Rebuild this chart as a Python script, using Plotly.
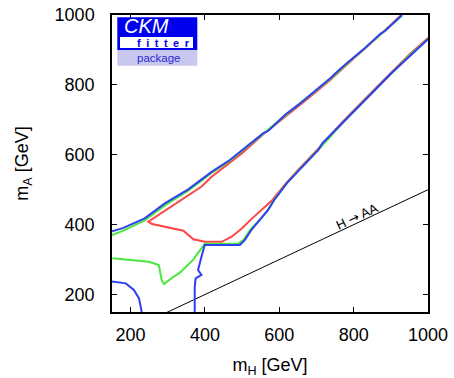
import plotly.graph_objects as go

# ---- data ----
blue_upper_mH = [150, 179, 238, 292, 355, 418, 467, 499, 530, 557, 570, 615, 650, 683, 737, 760, 772, 786, 830, 872, 885, 930]
blue_upper_mA = [381, 390, 418, 461, 501, 551, 585, 612, 638, 662, 668, 714, 742, 771, 819, 842, 852, 866, 905, 946, 955, 1000]

blue_lower_mH = [372, 372.5, 372.5, 375, 390.6, 381.5, 390.6, 399.5, 494, 507, 525, 548, 570, 586, 620, 658, 705, 716, 770, 786, 849, 900, 952, 997, 1005]
blue_lower_mA = [150, 156, 222, 246, 256, 270, 308, 342, 342, 356, 385, 413, 442, 470, 518, 561, 614, 633, 690, 709, 776, 832, 885, 928, 935]

blue_arc_mH = [150, 187, 209, 222.6, 230]
blue_arc_mA = [237, 232, 213, 189, 150]

green_upper_mH = [150, 179, 238, 292, 355, 418, 467, 499, 557, 615, 683, 737, 786, 872, 930]
green_upper_mA = [370, 382, 412, 455, 497, 548, 583, 610, 660, 712, 769, 817, 864, 944, 998]

green_lower_mH = [151, 196, 249.5, 276, 283.6, 290, 303, 334, 368, 399.5, 489.5, 505, 523, 548, 570, 586, 620, 658, 710, 770, 849, 952, 1000]
green_lower_mA = [303.6, 299, 294, 284.5, 241, 230, 241, 264, 299, 345, 345, 358, 387, 414, 443, 471, 519, 562, 620, 691, 777, 886, 931]

red_mH = [928, 872, 786, 737, 683, 615, 557, 499, 418, 391, 328.5, 247.6, 258, 301.6, 342, 369, 400, 445, 472, 499, 527, 581, 620, 658, 710, 770, 849, 952, 1000]
red_mA = [1000, 944, 862, 814, 766, 709, 659, 604, 537, 509, 466, 408.5, 402, 392.4, 382.6, 358, 351, 351, 365.5, 389, 418, 470, 521, 565, 623, 694, 780, 889, 934]

haa_mH = [150, 1000]
haa_mA = [75, 500]

x_ticks = [200, 400, 600, 800, 1000]
y_ticks = [200, 400, 600, 800, 1000]

BLUE = "#3040f0"
GREEN = "#48e83c"
RED = "#ff4545"

fig = go.Figure()
fig.add_trace(go.Scatter(x=haa_mH, y=haa_mA, mode="lines", line=dict(color="black", width=1)))
fig.add_trace(go.Scatter(x=red_mH, y=red_mA, mode="lines", line=dict(color=RED, width=2)))
fig.add_trace(go.Scatter(x=green_upper_mH, y=green_upper_mA, mode="lines", line=dict(color=GREEN, width=2)))
fig.add_trace(go.Scatter(x=green_lower_mH, y=green_lower_mA, mode="lines", line=dict(color=GREEN, width=2)))
fig.add_trace(go.Scatter(x=blue_upper_mH, y=blue_upper_mA, mode="lines", line=dict(color=BLUE, width=2)))
fig.add_trace(go.Scatter(x=blue_lower_mH, y=blue_lower_mA, mode="lines", line=dict(color=BLUE, width=2)))
fig.add_trace(go.Scatter(x=blue_arc_mH, y=blue_arc_mA, mode="lines", line=dict(color=BLUE, width=2)))

L, R, T, B = 112, 26, 15, 66
W, H = 454, 378
PW, PH = W - L - R, H - T - B

def px(x):
    return (x - L) / PW

def py(y):
    return 1 - (y - T) / PH

shapes = [
    dict(type="rect", xref="paper", yref="paper", x0=px(117.3), x1=px(197.3), y0=py(50), y1=py(17.3),
         fillcolor="#0000ee", line=dict(width=0), layer="above"),
    dict(type="rect", xref="paper", yref="paper", x0=px(120), x1=px(193), y0=py(48), y1=py(37),
         fillcolor="white", line=dict(width=0), layer="above"),
    dict(type="rect", xref="paper", yref="paper", x0=px(117.3), x1=px(197.3), y0=py(65.7), y1=py(50),
         fillcolor="#c8c8ee", line=dict(width=0), layer="above"),
]

def logo_text(text, x, y, size, color):
    return dict(text=text, xref="paper", yref="paper", x=px(x), y=py(y), xanchor="center", yanchor="middle",
                showarrow=False, font=dict(family="Liberation Sans", size=size, color=color))

annotations = [
    logo_text("<i>CKM</i>", 146.7, 26.5, 20, "white"),
    logo_text("<b>f\u2002i\u2002t\u2002t\u2002e\u2002r</b>", 163.3, 42.7, 11, "#0000ee"),
    logo_text("package", 158, 58.5, 11.5, "#2828d8"),
    dict(text="H <span style='font-family:DejaVu Sans'>\u2192</span> AA", x=809, y=422, xref="x", yref="y",
         showarrow=False, textangle=-25, xanchor="center", yanchor="middle",
         font=dict(family="Liberation Sans", size=13, color="black")),
]

axis_common = dict(
    showgrid=False, zeroline=False, showline=True, linecolor="black", linewidth=1.5,
    mirror="ticks", ticks="inside", ticklen=5, tickcolor="black", tickwidth=1,
    tickfont=dict(family="Liberation Sans", size=18, color="black"),
    range=[150, 1000], automargin=False,
)

fig.update_layout(
    template="none",
    width=W, height=H,
    margin=dict(l=L, r=R, t=T, b=B),
    paper_bgcolor="white", plot_bgcolor="white",
    showlegend=False,
    shapes=shapes, annotations=annotations,
    xaxis=dict(**axis_common, tickvals=x_ticks, ticklabelstandoff=6,
               title=dict(text="m<sub>H</sub> [GeV]", standoff=26,
                          font=dict(family="Liberation Sans", size=18, color="black"))),
    yaxis=dict(**axis_common, tickvals=y_ticks, ticklabelstandoff=12,
               title=dict(text="m<sub>A</sub> [GeV]", standoff=21,
                          font=dict(family="Liberation Sans", size=18, color="black"))),
)

fig.write_html("out.html", config={"displayModeBar": False},
               post_script="document.body.style.margin='0px';")
